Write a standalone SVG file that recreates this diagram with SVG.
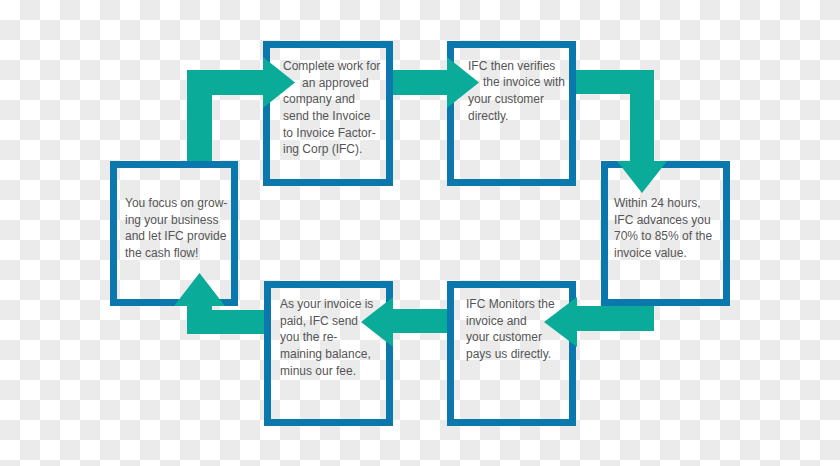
<svg xmlns="http://www.w3.org/2000/svg" width="840" height="466" viewBox="0 0 840 466">
<defs>
<pattern id="chk" x="0" y="0" width="40" height="40" patternUnits="userSpaceOnUse">
<rect x="0" y="0" width="40" height="40" fill="#ffffff"/>
<rect x="20" y="0" width="20" height="20" fill="#ebebeb"/>
<rect x="0" y="20" width="20" height="20" fill="#ebebeb"/>
</pattern>
<style>
.box{fill:none;stroke:#0a77ad;stroke-width:7}
.arr{fill:#0aab98}
.t{font-family:"Liberation Sans",Arial,sans-serif;font-size:12px;fill:#555555}
</style>
</defs>
<rect x="0" y="0" width="840" height="466" fill="url(#chk)"/>
<g id="n1"><rect class="box" x="266.5" y="44.5" width="123" height="138"/>
<text class="t"><tspan x="283" y="70">Complete work for</tspan><tspan x="302" y="86.7">an approved</tspan><tspan x="283" y="103.3">company and</tspan><tspan x="283" y="120">send the Invoice</tspan><tspan x="283" y="136.7">to Invoice Factor-</tspan><tspan x="283" y="153.3">ing Corp (IFC).</tspan></text></g>
<g id="n2"><rect class="box" x="450.5" y="44.5" width="122" height="138"/>
<text class="t"><tspan x="468" y="69.5">IFC then verifies</tspan><tspan x="483" y="86.2">the invoice with</tspan><tspan x="468" y="102.8">your customer</tspan><tspan x="468" y="119.5">directly.</tspan></text></g>
<g id="n3"><rect class="box" x="604.5" y="164.5" width="122" height="138"/>
<text class="t"><tspan x="614" y="207">Within 24 hours,</tspan><tspan x="614" y="223.7">IFC advances you</tspan><tspan x="614" y="240.3">70% to 85% of the</tspan><tspan x="614" y="257">invoice value.</tspan></text></g>
<g id="n4"><rect class="box" x="113.5" y="164.5" width="121" height="138"/>
<text class="t"><tspan x="125" y="207">You focus on grow-</tspan><tspan x="125" y="223.7">ing your business</tspan><tspan x="125" y="240.3">and let IFC provide</tspan><tspan x="125" y="257">the cash flow!</tspan></text></g>
<g id="n5"><rect class="box" x="267.5" y="284.5" width="122" height="138"/>
<text class="t"><tspan x="280" y="308">As your invoice is</tspan><tspan x="280" y="324.7">paid, IFC send</tspan><tspan x="280" y="341.3">you the re-</tspan><tspan x="280" y="358">maining balance,</tspan><tspan x="280" y="374.7">minus our fee.</tspan></text></g>
<g id="n6"><rect class="box" x="450.5" y="284.5" width="122" height="138"/>
<text class="t"><tspan x="466" y="308">IFC Monitors the</tspan><tspan x="466" y="324.7">invoice and</tspan><tspan x="466" y="341.3">your customer</tspan><tspan x="466" y="358">pays us directly.</tspan></text></g>
<g id="connectors">
<polygon class="arr" points="187,161 187,70 263,70 263,57 295,82.5 263,108 263,95 212,95 212,161"/>
<polygon class="arr" points="393,70 447,70 447,57 479,82.5 447,108 447,95 393,95"/>
<polygon class="arr" points="576,70 654,70 654,161 667,161 642,193 617,161 630,161 630,94 576,94"/>
<polygon class="arr" points="654,306 654,331 577,331 577,347 544,322 577,297 577,306"/>
<polygon class="arr" points="447,309 393,309 393,297 361,322 393,347 393,333 447,333"/>
<polygon class="arr" points="264,310 264,334 187,334 187,306 174,306 199.5,273 225,306 212,306 212,310"/>
</g>
</svg>
